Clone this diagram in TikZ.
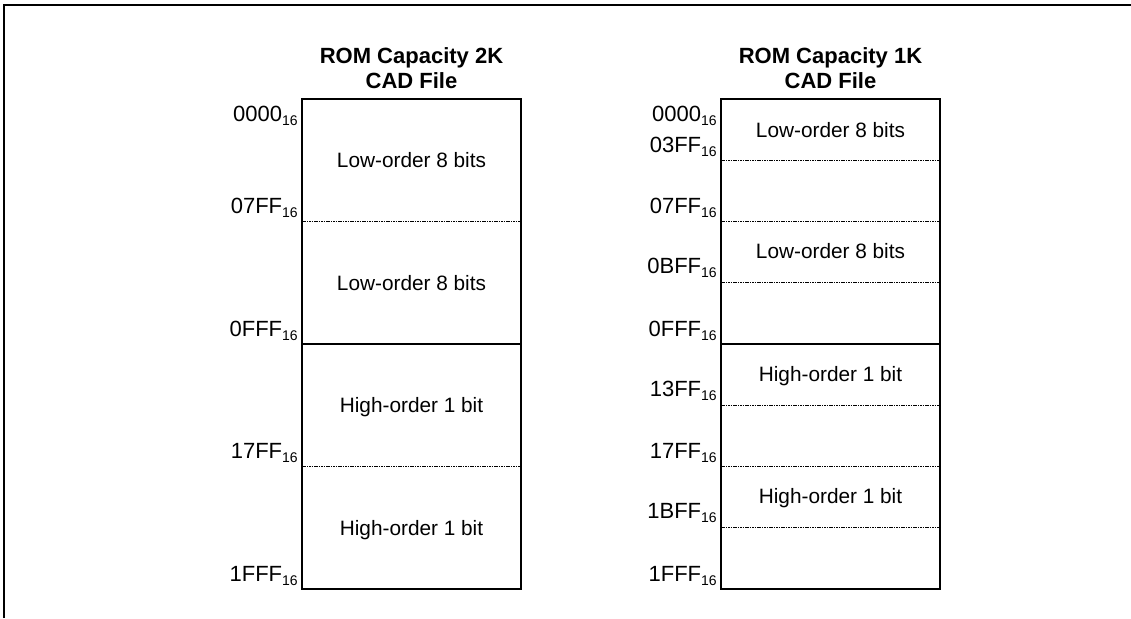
\documentclass[tikz,border=0pt]{standalone}
\usepackage{fontspec}
\setmainfont{Liberation Sans}
\usetikzlibrary{calc}
\newcommand{\hexsub}[1]{\raisebox{-0.4ex}{\fontsize{10.5}{10.5}\selectfont #1}}
\begin{document}
\begin{tikzpicture}[x=0.75pt,y=-0.75pt,
  frameline/.style={line width=1.8pt},
  membox/.style={draw,line width=1.6pt,minimum width=164.25pt,minimum height=367.5pt,inner sep=0pt,outer sep=0pt},
  dotline/.style={line width=1pt,dash pattern=on 1.2pt off 0.6pt},
  solidline/.style={line width=1.2pt},
  addr/.style={anchor=base east,inner sep=0pt,font=\fontsize{16.5}{18}\selectfont},
  cell/.style={anchor=base,inner sep=0pt,font=\fontsize{15.6}{18}\selectfont},
  ttl/.style={anchor=base,inner sep=0pt,font=\bfseries\fontsize{16.5}{19}\selectfont}]
\useasboundingbox (0,0) rectangle (1131,618);
\coordinate (fbl) at (4,618);
\coordinate (ftl) at (4,5);
\coordinate (ftr) at (1131,5);
\draw[frameline] (fbl) -- (ftl) -- (ftr);

% titles
\node[ttl] (t2a) at (411.5,63) {ROM Capacity 2K};
\node[ttl] (t2b) at (411.5,88) {CAD File};
\node[ttl] (t1a) at (830.5,63) {ROM Capacity 1K};
\node[ttl] (t1b) at (830.5,88) {CAD File};

% boxes
\node[membox] (b2k) at (411.5,344) {};
\node[membox] (b1k) at (830.5,344) {};

% 2K dividers
\draw[dotline] ($(b2k.north west)!0.25!(b2k.south west)$) -- ($(b2k.north east)!0.25!(b2k.south east)$);
\draw[solidline] (b2k.west) -- (b2k.east);
\draw[dotline] ($(b2k.north west)!0.75!(b2k.south west)$) -- ($(b2k.north east)!0.75!(b2k.south east)$);

% 1K dividers
\foreach \f in {0.125,0.25,0.375,0.625,0.75,0.875}{
  \draw[dotline] ($(b1k.north west)!\f!(b1k.south west)$) -- ($(b1k.north east)!\f!(b1k.south east)$);
}
\draw[solidline] (b1k.west) -- (b1k.east);

% 2K cell texts
\node[cell] (c2a) at (411.5,167.5) {Low-order 8 bits};
\node[cell] (c2b) at (411.5,290) {Low-order 8 bits};
\node[cell] (c2c) at (411.5,412.5) {High-order 1 bit};
\node[cell] (c2d) at (411.5,535) {High-order 1 bit};

% 1K cell texts
\node[cell] (c1a) at (830.5,137) {Low-order 8 bits};
\node[cell] (c1b) at (830.5,258.5) {Low-order 8 bits};
\node[cell] (c1c) at (830.5,381.5) {High-order 1 bit};
\node[cell] (c1d) at (830.5,503.5) {High-order 1 bit};

% 2K addresses
\node[addr] (a2a) at (298,121) {0000\hexsub{16}};
\node[addr] (a2b) at (298,213) {07FF\hexsub{16}};
\node[addr] (a2c) at (298,336) {0FFF\hexsub{16}};
\node[addr] (a2d) at (298,458) {17FF\hexsub{16}};
\node[addr] (a2e) at (298,581) {1FFF\hexsub{16}};

% 1K addresses
\node[addr] (a1a) at (717,121) {0000\hexsub{16}};
\node[addr] (a1b) at (717,152) {03FF\hexsub{16}};
\node[addr] (a1c) at (717,213) {07FF\hexsub{16}};
\node[addr] (a1d) at (717,273) {0BFF\hexsub{16}};
\node[addr] (a1e) at (717,336) {0FFF\hexsub{16}};
\node[addr] (a1f) at (717,396) {13FF\hexsub{16}};
\node[addr] (a1g) at (717,458) {17FF\hexsub{16}};
\node[addr] (a1h) at (717,518) {1BFF\hexsub{16}};
\node[addr] (a1i) at (717,581) {1FFF\hexsub{16}};
\end{tikzpicture}
\end{document}
